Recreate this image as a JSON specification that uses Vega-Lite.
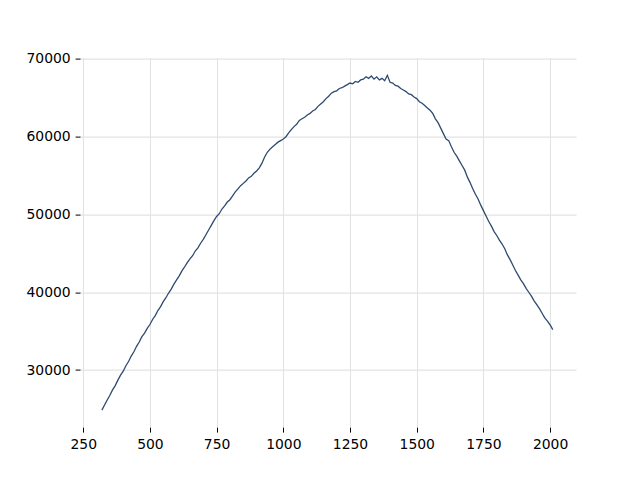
{
  "$schema": "https://vega.github.io/schema/vega-lite/v6.json",
  "width": 496,
  "height": 369.6,
  "autosize": {"type": "none"},
  "padding": {"left": 80, "top": 57.6, "right": 64, "bottom": 52.8},
  "background": "white",
  "config": {
    "view": {"stroke": null},
    "axis": {
      "domain": false,
      "grid": true,
      "gridColor": "#e3e3e3",
      "gridWidth": 1.1,
      "tickColor": "black",
      "tickWidth": 1,
      "tickSize": 4.9,
      "labelFont": "DejaVu Sans",
      "labelFontSize": 13.9,
      "labelColor": "black",
      "labelPadding": 4.9,
      "title": null
    }
  },
  "data": {
    "values": [
      {"x": 320, "y": 24850}, {"x": 330, "y": 25500}, {"x": 340, "y": 26150}, {"x": 350, "y": 26750},
      {"x": 360, "y": 27450}, {"x": 370, "y": 28000}, {"x": 380, "y": 28700}, {"x": 390, "y": 29350},
      {"x": 400, "y": 29850}, {"x": 410, "y": 30550}, {"x": 420, "y": 31100}, {"x": 430, "y": 31800},
      {"x": 440, "y": 32350}, {"x": 450, "y": 33050}, {"x": 460, "y": 33600}, {"x": 470, "y": 34300},
      {"x": 480, "y": 34750}, {"x": 490, "y": 35350}, {"x": 500, "y": 35850}, {"x": 510, "y": 36500},
      {"x": 520, "y": 37000}, {"x": 530, "y": 37650}, {"x": 540, "y": 38150}, {"x": 550, "y": 38800},
      {"x": 560, "y": 39300}, {"x": 570, "y": 39900}, {"x": 580, "y": 40400}, {"x": 590, "y": 41050},
      {"x": 600, "y": 41600}, {"x": 610, "y": 42100}, {"x": 620, "y": 42750}, {"x": 630, "y": 43250},
      {"x": 640, "y": 43800}, {"x": 650, "y": 44300}, {"x": 660, "y": 44700}, {"x": 670, "y": 45300},
      {"x": 680, "y": 45700}, {"x": 690, "y": 46300}, {"x": 700, "y": 46800}, {"x": 710, "y": 47400},
      {"x": 720, "y": 48000}, {"x": 730, "y": 48600}, {"x": 740, "y": 49200}, {"x": 750, "y": 49750},
      {"x": 760, "y": 50100}, {"x": 770, "y": 50700}, {"x": 780, "y": 51100}, {"x": 790, "y": 51600},
      {"x": 800, "y": 51900}, {"x": 810, "y": 52400}, {"x": 820, "y": 52900}, {"x": 830, "y": 53300},
      {"x": 840, "y": 53700}, {"x": 850, "y": 54000}, {"x": 860, "y": 54300}, {"x": 870, "y": 54700},
      {"x": 880, "y": 54900}, {"x": 890, "y": 55300}, {"x": 900, "y": 55600}, {"x": 910, "y": 56000},
      {"x": 920, "y": 56600}, {"x": 930, "y": 57400}, {"x": 940, "y": 58000}, {"x": 950, "y": 58400},
      {"x": 960, "y": 58700}, {"x": 970, "y": 59000}, {"x": 980, "y": 59300}, {"x": 990, "y": 59500},
      {"x": 1000, "y": 59700}, {"x": 1010, "y": 60000}, {"x": 1020, "y": 60500}, {"x": 1030, "y": 60900},
      {"x": 1040, "y": 61300}, {"x": 1050, "y": 61600}, {"x": 1060, "y": 62100}, {"x": 1070, "y": 62300},
      {"x": 1080, "y": 62500}, {"x": 1090, "y": 62800}, {"x": 1100, "y": 63000}, {"x": 1110, "y": 63300},
      {"x": 1120, "y": 63500}, {"x": 1130, "y": 63900}, {"x": 1140, "y": 64200}, {"x": 1150, "y": 64500},
      {"x": 1160, "y": 64900}, {"x": 1170, "y": 65200}, {"x": 1180, "y": 65600}, {"x": 1190, "y": 65800},
      {"x": 1200, "y": 65900}, {"x": 1210, "y": 66200}, {"x": 1220, "y": 66300}, {"x": 1230, "y": 66500},
      {"x": 1240, "y": 66700}, {"x": 1250, "y": 66900}, {"x": 1260, "y": 66800}, {"x": 1270, "y": 67100},
      {"x": 1280, "y": 67000}, {"x": 1290, "y": 67300}, {"x": 1300, "y": 67400}, {"x": 1310, "y": 67700},
      {"x": 1320, "y": 67500}, {"x": 1330, "y": 67800}, {"x": 1340, "y": 67400}, {"x": 1350, "y": 67700},
      {"x": 1360, "y": 67300}, {"x": 1370, "y": 67500}, {"x": 1380, "y": 67200}, {"x": 1390, "y": 67900},
      {"x": 1400, "y": 67000}, {"x": 1410, "y": 66900}, {"x": 1420, "y": 66600}, {"x": 1430, "y": 66500},
      {"x": 1440, "y": 66200}, {"x": 1450, "y": 66000}, {"x": 1460, "y": 65800}, {"x": 1470, "y": 65500},
      {"x": 1480, "y": 65400}, {"x": 1490, "y": 65100}, {"x": 1500, "y": 64900}, {"x": 1510, "y": 64500},
      {"x": 1520, "y": 64300}, {"x": 1530, "y": 64000}, {"x": 1540, "y": 63700}, {"x": 1550, "y": 63400},
      {"x": 1560, "y": 63000}, {"x": 1570, "y": 62300}, {"x": 1580, "y": 61800}, {"x": 1590, "y": 61100},
      {"x": 1600, "y": 60400}, {"x": 1610, "y": 59700}, {"x": 1620, "y": 59500}, {"x": 1630, "y": 58700},
      {"x": 1640, "y": 58000}, {"x": 1650, "y": 57500}, {"x": 1660, "y": 56900}, {"x": 1670, "y": 56300},
      {"x": 1680, "y": 55700}, {"x": 1690, "y": 54800}, {"x": 1700, "y": 54100}, {"x": 1710, "y": 53300},
      {"x": 1720, "y": 52600}, {"x": 1730, "y": 52000}, {"x": 1740, "y": 51200}, {"x": 1750, "y": 50500},
      {"x": 1760, "y": 49800}, {"x": 1770, "y": 49100}, {"x": 1780, "y": 48500}, {"x": 1790, "y": 47800},
      {"x": 1800, "y": 47300}, {"x": 1810, "y": 46700}, {"x": 1820, "y": 46200}, {"x": 1830, "y": 45600},
      {"x": 1840, "y": 44800}, {"x": 1850, "y": 44200}, {"x": 1860, "y": 43500}, {"x": 1870, "y": 42800},
      {"x": 1880, "y": 42200}, {"x": 1890, "y": 41600}, {"x": 1900, "y": 41100}, {"x": 1910, "y": 40500},
      {"x": 1920, "y": 40000}, {"x": 1930, "y": 39500}, {"x": 1940, "y": 38900}, {"x": 1950, "y": 38400},
      {"x": 1960, "y": 37900}, {"x": 1970, "y": 37300}, {"x": 1980, "y": 36700}, {"x": 1990, "y": 36300},
      {"x": 2000, "y": 35800}, {"x": 2010, "y": 35200}
    ]
  },
  "mark": {"type": "line", "color": "#2e4a6f", "strokeWidth": 1.3, "interpolate": "linear"},
  "encoding": {
    "x": {
      "field": "x",
      "type": "quantitative",
      "scale": {"domain": [238, 2097], "nice": false, "zero": false},
      "axis": {"values": [250, 500, 750, 1000, 1250, 1500, 1750, 2000], "format": "d"}
    },
    "y": {
      "field": "y",
      "type": "quantitative",
      "scale": {"domain": [22650, 70170], "nice": false, "zero": false},
      "axis": {"values": [30000, 40000, 50000, 60000, 70000], "format": "d"}
    }
  }
}
